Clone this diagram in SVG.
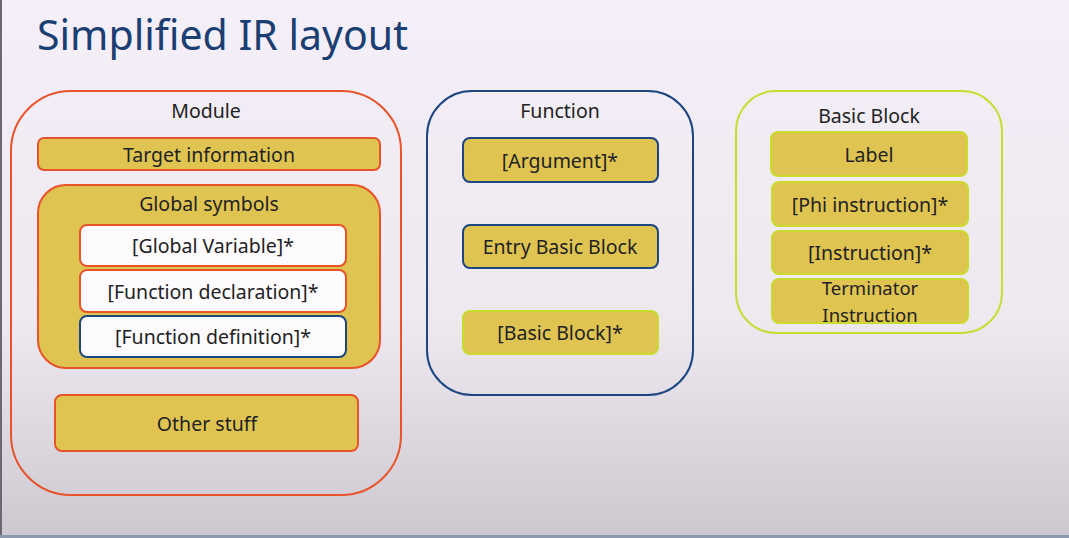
<svg xmlns="http://www.w3.org/2000/svg" width="1069" height="538" viewBox="0 0 1069 538">
<defs>
<linearGradient id="bg" x1="0" y1="0" x2="0" y2="1">
<stop offset="0" stop-color="#f4eff8"/>
<stop offset="0.6" stop-color="#eee8f0"/>
<stop offset="1" stop-color="#cdc7d0"/>
</linearGradient>
</defs>
<style>
text{font-family:"Noto Sans","Open Sans",sans-serif;fill:#222;text-anchor:middle;dominant-baseline:central}
.title{font-size:41px;fill:#1b3f73;text-anchor:start;dominant-baseline:auto}
.lbl{font-size:19.5px}
.sm{font-size:18.5px}
.box{fill:#e0c452;stroke-width:2}
.or{stroke:#e8532a}
.bl{stroke:#1d4780}
.gr{stroke:#c9db2f}
.wh{fill:#fdfbfe;stroke-width:2}
.outer{fill:none;stroke-width:2}
</style>
<rect x="0" y="0" width="1069" height="538" fill="url(#bg)"/>
<rect x="0" y="0" width="2" height="538" fill="#6a6870"/>
<rect x="0" y="535" width="1069" height="3" fill="#8a9aac"/>
<text class="title" x="37" y="50">Simplified IR layout</text>

<g id="module">
<rect class="outer or" x="11" y="91" width="390" height="404" rx="60" ry="60"/>
<text class="lbl" x="206" y="110">Module</text>
</g>
<g id="target-information">
<rect class="box or" x="38" y="138" width="342" height="32" rx="6"/>
<text class="lbl" x="209" y="154">Target information</text>
</g>
<g id="global-symbols">
<rect class="box or" x="38" y="185" width="342" height="183" rx="28"/>
<text class="lbl" x="209" y="203">Global symbols</text>
</g>
<g id="global-variable">
<rect class="wh or" x="80" y="225" width="266" height="41" rx="7"/>
<text class="lbl" x="213" y="245">[Global Variable]*</text>
</g>
<g id="function-declaration">
<rect class="wh or" x="80" y="270" width="266" height="42" rx="7"/>
<text class="lbl" x="213" y="291">[Function declaration]*</text>
</g>
<g id="function-definition">
<rect class="wh bl" x="80" y="316" width="266" height="41" rx="7"/>
<text class="lbl" x="213" y="336">[Function definition]*</text>
</g>
<g id="other-stuff">
<rect class="box or" x="55" y="395" width="303" height="56" rx="7"/>
<text class="lbl" x="207" y="423">Other stuff</text>
</g>

<g id="function">
<rect class="outer bl" x="427" y="91" width="266" height="304" rx="45" ry="45"/>
<text class="lbl" x="560" y="110">Function</text>
</g>
<g id="argument">
<rect class="box bl" x="463" y="138" width="195" height="44" rx="7"/>
<text class="lbl" x="560" y="160">[Argument]*</text>
</g>
<g id="entry-basic-block">
<rect class="box bl" x="463" y="225" width="195" height="43" rx="7"/>
<text class="lbl" x="560" y="246">Entry Basic Block</text>
</g>
<g id="basic-block-list">
<rect class="box gr" x="463" y="311" width="195" height="43" rx="7"/>
<text class="lbl" x="560" y="332">[Basic Block]*</text>
</g>

<g id="basic-block">
<rect class="outer gr" x="736" y="91" width="266" height="242" rx="40" ry="40"/>
<text class="lbl" x="869" y="115">Basic Block</text>
</g>
<g id="label">
<rect class="box gr" x="771" y="132" width="196" height="44" rx="7"/>
<text class="lbl" x="869" y="154">Label</text>
</g>
<g id="phi-instruction">
<rect class="box gr" x="772" y="182" width="196" height="44" rx="7"/>
<text class="lbl" x="870" y="204">[Phi instruction]*</text>
</g>
<g id="instruction">
<rect class="box gr" x="772" y="231" width="196" height="43" rx="7"/>
<text class="lbl" x="870" y="252">[Instruction]*</text>
</g>
<g id="terminator-instruction">
<rect class="box gr" x="772" y="279" width="196" height="44" rx="7"/>
<text class="sm" x="870" y="287.5">Terminator</text>
<text class="sm" x="870" y="314">Instruction</text>
</g>
<g id="connectors"/>
</svg>
